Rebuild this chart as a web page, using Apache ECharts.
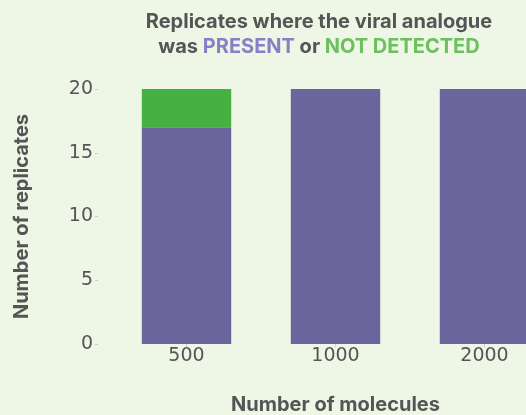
<!DOCTYPE html>
<html>
<head>
<meta charset="utf-8">
<script src="https://cdn.jsdelivr.net/npm/echarts@6/dist/echarts.min.js"></script>
<style>
  html, body { margin: 0; padding: 0; background: #eef6e6; }
  #main { width: 526px; height: 415px; }
</style>
</head>
<body>
<div id="main"></div>
<script>
var categories = ['500', '1000', '2000'];
var present = [17, 20, 20];
var notDetected = [3, 0, 0];
var yTicks = [0, 5, 10, 15, 20];

var myChart = echarts.init(document.getElementById('main'));

var boldText = { fontFamily: 'Inter', fontSize: 20, fontWeight: 'bold', color: '#555555' };

myChart.setOption({
    backgroundColor: '#eef6e6',
    title: {
        text: 'Replicates where the viral analogue\n{n|was }{p|PRESENT}{n| or }{d|NOT DETECTED}',
        left: 314,
        textAlign: 'center',
        top: 4,
        textStyle: {
            fontFamily: 'Inter',
            fontSize: 20,
            fontWeight: 'bold',
            color: '#555555',
            lineHeight: 25,
            rich: {
                n: { fontFamily: 'Inter', fontSize: 20, fontWeight: 'bold', color: '#555555', lineHeight: 25 },
                p: { fontFamily: 'Inter', fontSize: 20, fontWeight: 'bold', color: '#8a7fc4', lineHeight: 25 },
                d: { fontFamily: 'Inter', fontSize: 20, fontWeight: 'bold', color: '#6cc05e', lineHeight: 25 }
            }
        }
    },
    grid: {
        left: 112,
        right: -33,
        top: 89,
        bottom: 71,
        containLabel: false,
        outerBoundsMode: 'none'
    },
    xAxis: {
        type: 'category',
        data: categories,
        name: 'Number of molecules',
        nameLocation: 'middle',
        nameGap: 51,
        nameTextStyle: boldText,
        axisLine: { show: false },
        axisTick: { show: true, alignWithLabel: true, length: 3, lineStyle: { color: '#cccccc' } },
        axisLabel: { fontFamily: 'DejaVu Sans', fontSize: 19, color: '#555555', margin: 3 }
    },
    yAxis: {
        type: 'value',
        min: 0,
        max: 20,
        interval: 5,
        offset: 14,
        name: 'Number of replicates',
        nameLocation: 'middle',
        nameGap: 66,
        nameTextStyle: boldText,
        axisLine: { show: false },
        axisTick: { show: true, length: 3, lineStyle: { color: '#cccccc' } },
        splitLine: { show: false },
        axisLabel: {
            fontFamily: 'DejaVu Sans',
            fontSize: 19,
            color: '#555555',
            margin: 5,
            formatter: function (v) { return yTicks.indexOf(v) >= 0 ? String(v) : ''; }
        }
    },
    series: [
        {
            name: 'PRESENT',
            type: 'bar',
            stack: 'total',
            barWidth: '60%',
            data: present,
            itemStyle: { color: '#6b659e' }
        },
        {
            name: 'NOT DETECTED',
            type: 'bar',
            stack: 'total',
            barWidth: '60%',
            data: notDetected,
            itemStyle: { color: '#46b043' }
        }
    ]
});
</script>
</body>
</html>
